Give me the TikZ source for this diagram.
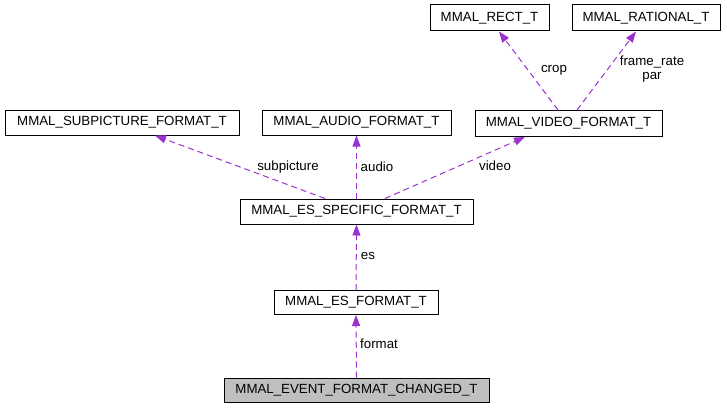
\documentclass[tikz,border=0pt]{standalone}
\usepackage{fontspec}
\setmainfont{Liberation Sans}
\usetikzlibrary{arrows.meta}
\definecolor{edgecol}{HTML}{9A32CD}
\definecolor{hlfill}{HTML}{BFBFBF}
\tikzset{
  box/.style={draw=black, line width=1pt, fill=white, inner sep=0pt, font=\fontsize{13.3}{14}\selectfont, anchor=center},
  hlbox/.style={box, fill=hlfill},
  rel/.style={draw=edgecol, line width=1pt, dash pattern=on 6pt off 4pt, -{Triangle[length=11pt, width=8pt, fill=edgecol]}},
  lbl/.style={font=\fontsize{13.3}{14}\selectfont, inner sep=0pt, anchor=center}
}
\begin{document}
\begin{tikzpicture}[x=1pt, y=-1pt]
\useasboundingbox (0,0) rectangle (727,409);
\node[box, minimum width=119pt, minimum height=26pt] (rect) at (489.5,18) {MMAL\_RECT\_T};
\node[box, minimum width=148pt, minimum height=26pt] (rational) at (646,18) {MMAL\_RATIONAL\_T};
\node[box, minimum width=187pt, minimum height=26pt] (video) at (568.5,123.5) {MMAL\_VIDEO\_FORMAT\_T};
\node[box, minimum width=234pt, minimum height=25pt] (subpic) at (122,122.5) {MMAL\_SUBPICTURE\_FORMAT\_T};
\node[box, minimum width=189pt, minimum height=25pt] (audio) at (356.5,122.5) {MMAL\_AUDIO\_FORMAT\_T};
\node[box, minimum width=233pt, minimum height=25pt] (esspec) at (356.5,211.5) {MMAL\_ES\_SPECIFIC\_FORMAT\_T};
\node[box, minimum width=164pt, minimum height=24pt] (esformat) at (356,302.5) {MMAL\_ES\_FORMAT\_T};
\node[hlbox, minimum width=265pt, minimum height=24pt] (event) at (356.5,390) {MMAL\_EVENT\_FORMAT\_CHANGED\_T};

\draw[rel] (event.north) -- (esformat.south);
\draw[rel] (esformat.north) -- (esspec.south);
\draw[rel] ([xshift=-31.5pt]esspec.north) -- ([xshift=33pt]subpic.south);
\draw[rel] (esspec.north) -- (audio.south);
\draw[rel] ([xshift=28.5pt]esspec.north) -- ([xshift=-43.5pt]video.south);
\draw[rel] ([xshift=-10.5pt]video.north) -- ([xshift=9.5pt]rect.south);
\draw[rel] ([xshift=8.5pt]video.north) -- ([xshift=-10pt]rational.south);

\node[lbl] (lformat) at (379,344) {format};
\node[lbl] (les) at (368,256) {es};
\node[lbl] (lsub) at (288,167) {subpicture};
\node[lbl] (laudio) at (377,167) {audio};
\node[lbl] (lvideo) at (495,166) {video};
\node[lbl] (lcrop) at (554,70) {crop};
\node[lbl] (lfr) at (652,62) {frame\_rate};
\node[lbl] (lpar) at (652,77) {par};
\end{tikzpicture}
\end{document}
